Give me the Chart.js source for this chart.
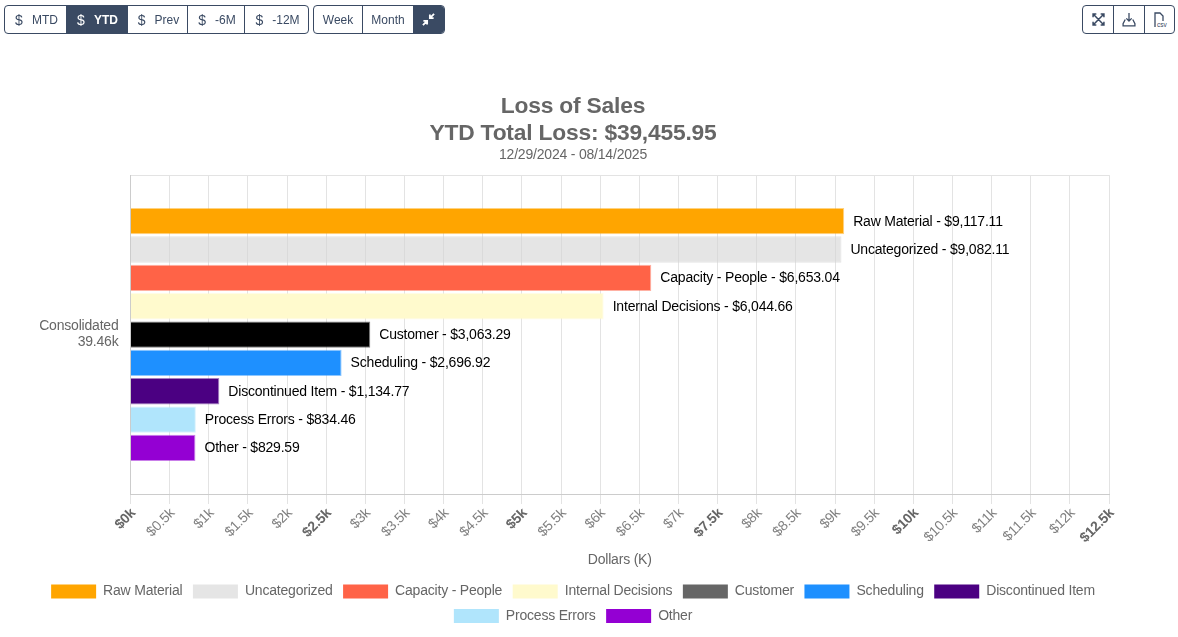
<!DOCTYPE html>
<html><head><meta charset="utf-8">
<script src="https://cdn.jsdelivr.net/npm/chart.js@4"></script>
<style>
html,body{margin:0;padding:0;background:#fff;width:1178px;height:637px;overflow:hidden;font-family:"Liberation Sans",Arial,sans-serif}
#c{position:absolute;left:0;top:0}
.grp{position:absolute;top:5px;height:27px;display:flex;border:1px solid #3a4a63;border-radius:4px;box-sizing:content-box;overflow:hidden;background:#fff}
.grp div{display:flex;align-items:center;justify-content:center;font-size:12px;color:#3a4a63;border-left:1px solid #3a4a63;box-sizing:border-box;height:27px}
.grp div:first-child{border-left:none}
.grp div.on{background:#3a4a63;color:#fff;font-weight:bold;border-left:none}
.grp span.d{font-size:14px;margin-right:9px;font-weight:normal}
.grp div.p{padding-left:2px}
</style></head><body>
<canvas id="c" width="1146" height="637"></canvas>
<div class="grp" style="left:4px;width:303px">
 <div class="p" style="width:61px"><span class="d">$</span>MTD</div>
 <div class="on p" style="width:61px"><span class="d">$</span>YTD</div>
 <div class="p" style="width:60px"><span class="d">$</span>Prev</div>
 <div class="p" style="width:57px"><span class="d">$</span>-6M</div>
 <div class="p" style="width:64px"><span class="d">$</span>-12M</div>
</div>
<div class="grp" style="left:313px;width:130px">
 <div style="width:48px">Week</div>
 <div style="width:51px">Month</div>
 <div class="on" style="width:31px"><svg width="13" height="13" viewBox="0 0 14 14" fill="none" stroke="#fff" stroke-width="2"><path d="M1 13l4-4M1.5 8.500h4v4M13 1L9 5M8.500 1.500v4h4"/></svg></div>
</div>
<div class="grp" style="left:1082px;width:91px">
 <div style="width:30px"><svg width="13" height="13" viewBox="0 0 12 12" fill="none" stroke="#3a4a63" stroke-width="1.4"><path d="M1 1l10 10M11 1L1 11M1 4V1h3M8 1h3v3M1 8v3h3M8 11h3V8"/></svg></div>
 <div style="width:31px"><svg width="14" height="14" viewBox="0 0 13 13" fill="none" stroke="#3a4a63" stroke-width="1.2"><path d="M6.500 0v7M4 5l2.500 2.500L9 5M3 6L1 10v2h11v-2L10 6"/></svg></div>
 <div style="width:30px"><svg width="16" height="16" viewBox="0 0 16 16" fill="none" stroke="#3a4a63" stroke-width="1.3"><path d="M3 15V1h5l3 3v5"/><text x="5" y="15" font-size="6.500" fill="#3a4a63" stroke="none">csv</text></svg></div>
</div>
<script>
const categories = ['Consolidated', '39.46k'];
const seriesNames = ['Raw Material','Uncategorized','Capacity - People','Internal Decisions','Customer','Scheduling','Discontinued Item','Process Errors','Other'];
const seriesValues = [9117.11,9082.11,6653.04,6044.66,3063.29,2696.92,1134.77,834.46,829.59];
const barColors = ['#ffa500','rgba(211,211,211,0.6)','#ff6347','#fffacd','#000000','#1e90ff','#4b0082','#b0e5fc','#9400d3'];
const barEdges = ['#ffa50080','rgba(211,211,211,0.6)','#ff634780','#fffacd80','#00000080','#1e90ff80','#4b008280','#b0e5fc80','#9400d380'];
const legendColors = ['#ffa500','#e5e5e5','#ff6347','#fffacd','#666666','#1e90ff','#4b0082','#b0e5fc','#9400d3'];
const titleLines = ['Loss of Sales','YTD Total Loss: $39,455.95'];
const subtitleText = '12/29/2024 - 08/14/2025';
const axisTitle = 'Dollars (K)';
const axisMax = 12500, axisStep = 500;

const money = v => '$' + v.toLocaleString('en-US',{minimumFractionDigits:2,maximumFractionDigits:2});
const FF = '"Liberation Sans",Arial,sans-serif';
const SPACING = '-0.2px';

const tightText = {
  id:'tightText',
  beforeLayout(chart){ chart.ctx.letterSpacing = SPACING; },
  beforeDraw(chart){ chart.ctx.letterSpacing = SPACING; }
};
const valueLabels = {
  id:'valueLabels',
  afterDatasetsDraw(chart){
    const ctx = chart.ctx;
    ctx.save();
    ctx.font = '14px '+FF; ctx.fillStyle='#000'; ctx.textBaseline='middle'; ctx.textAlign='left';
    chart.data.datasets.forEach((ds,i)=>{
      const el = chart.getDatasetMeta(i).data[0];
      ctx.fillText(ds.label+' - '+money(ds.data[0]), el.x+9, el.y+0.500);
    });
    ctx.restore();
  }
};

new Chart(document.getElementById('c'),{
  type:'bar',
  plugins:[tightText,valueLabels],
  data:{
    labels:[categories],
    datasets:seriesNames.map((n,i)=>({label:n,data:[seriesValues[i]],backgroundColor:barColors[i],borderColor:barEdges[i],borderWidth:1}))
  },
  options:{
    indexAxis:'y',responsive:false,animation:false,devicePixelRatio:1,
    layout:{padding:{top:93,left:0,right:0,bottom:4}},
    datasets:{bar:{categoryPercentage:0.8,barPercentage:0.93}},
    scales:{
      x:{min:0,max:axisMax,
        afterFit(s){s.height=80;},
        grid:{color:'#e3e3e3',lineWidth:1,tickLength:10},
        border:{color:'#cccccc'},
        ticks:{stepSize:axisStep,minRotation:45,maxRotation:45,autoSkip:false,padding:1,labelOffset:3,
          color:c=>c.index%5===0?'#666666':'#808080',
          font:c=>({family:FF,size:14,weight:c.index%5===0?'bold':'normal'}),
          callback:v=>'$'+(v/1000)+'k'},
        title:{display:true,text:axisTitle,color:'#666',font:{family:FF,size:14},padding:{top:4,bottom:5}}
      },
      y:{
        afterFit(s){s.width=130.500;},
        grid:{color:'#e3e3e3',tickLength:0},
        border:{color:'#cccccc'},
        ticks:{color:'#666',font:{family:FF,size:14,lineHeight:1.14},padding:12}
      },
      y2:{type:'category',position:'right',
        afterFit(s){s.width=37;},
        grid:{display:false},border:{display:false},ticks:{display:false}
      }
    },
    plugins:{
      title:{display:true,text:titleLines,color:'#666',font:{family:FF,size:22.8,weight:'bold',lineHeight:1.2},padding:{top:0,bottom:0}},
      subtitle:{display:true,text:subtitleText,color:'#666',font:{family:FF,size:14,lineHeight:1.1},padding:{top:0,bottom:12}},
      legend:{position:'bottom',
        labels:{boxWidth:45,boxHeight:14,padding:10.5,color:'#666',font:{family:FF,size:14},
          generateLabels:ch=>ch.data.datasets.map((d,i)=>({text:d.label,fillStyle:legendColors[i],strokeStyle:legendColors[i],lineWidth:0,fontColor:'#666',datasetIndex:i}))}
      },
      tooltip:{enabled:false}
    }
  }
});
</script>
</body></html>
